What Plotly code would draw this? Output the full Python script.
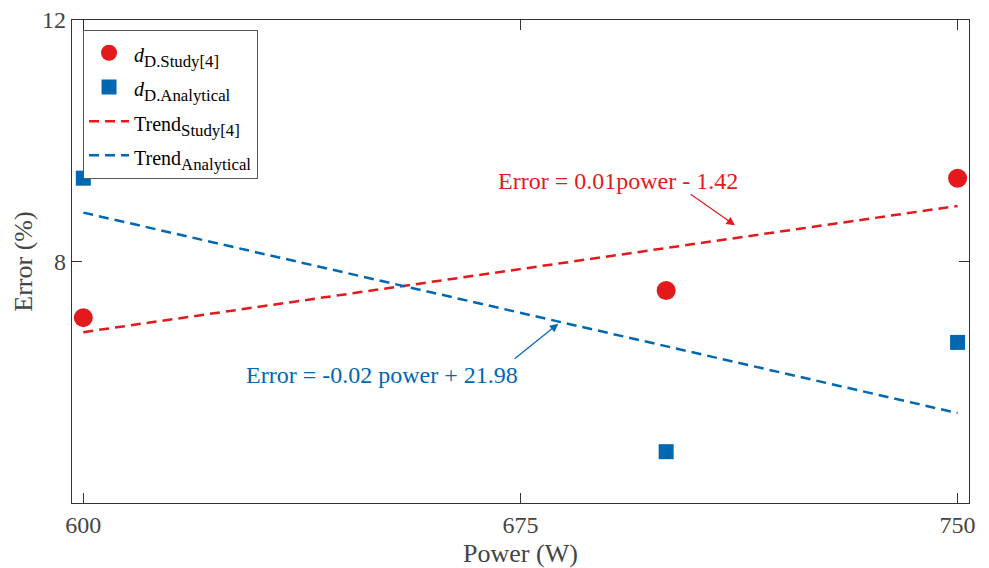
import plotly.graph_objects as go

power = [600, 700, 750]
err_study = [7.07, 7.52, 9.38]
err_analytical = [9.38, 4.85, 6.66]
trend_x = [600, 750]
trend_study = [6.83, 8.92]
trend_analytical = [8.81, 5.49]

RED = "#E3191C"
BLUE = "#0067B1"
FONT = "Liberation Serif"


def label(main, s, italic=False):
    m = "<i>" + main + "</i>" if italic else main
    return "<span style='font-size:20px'>" + m + "</span><sub>" + s + "</sub>"


fig = go.Figure()
fig.add_trace(go.Scatter(x=power, y=err_study, mode="markers",
                         marker=dict(symbol="circle", size=19, color=RED),
                         name=label("d", "D.Study[4]", True)))
fig.add_trace(go.Scatter(x=power, y=err_analytical, mode="markers",
                         marker=dict(symbol="square", size=15, color=BLUE),
                         name=label("d", "D.Analytical", True)))
fig.add_trace(go.Scatter(x=trend_x, y=trend_study, mode="lines",
                         line=dict(color=RED, width=2.5, dash="10px,6px"),
                         name=label("Trend", "Study[4]")))
fig.add_trace(go.Scatter(x=trend_x, y=trend_analytical, mode="lines",
                         line=dict(color=BLUE, width=2.5, dash="10px,6px"),
                         name=label("Trend", "Analytical")))

fig.update_layout(
    width=989, height=568,
    margin=dict(l=72, r=20, t=20, b=65, autoexpand=False),
    paper_bgcolor="white", plot_bgcolor="white",
    font=dict(family=FONT, size=24, color="#454545"),
    showlegend=True,
    legend=dict(x=0.0123, y=0.98, xanchor="left", yanchor="top",
                bordercolor="#555555", borderwidth=1, bgcolor="white",
                font=dict(family=FONT, size=24, color="black"),
                itemwidth=40, tracegroupgap=0),
    xaxis=dict(range=[598.06, 751.96], tickvals=[600, 675, 750], automargin=False,
               tickfont=dict(family=FONT, size=24, color="#454545"),
               ticklabelstandoff=0,
               showgrid=False, zeroline=False, showline=True, linecolor="#333333",
               linewidth=1.2, mirror="allticks", ticks="inside", ticklen=10,
               tickcolor="#333333",
               title=dict(text="Power (W)", font=dict(family=FONT, size=26, color="#454545"), standoff=8)),
    yaxis=dict(range=[4.0, 12], tickvals=[8, 12], automargin=False,
               tickfont=dict(family=FONT, size=24, color="#454545"),
               showgrid=False, zeroline=False, showline=True, linecolor="#333333",
               linewidth=1.2, mirror="allticks", ticks="inside", ticklen=10,
               tickcolor="#333333",
               title=dict(text="Error (%)", font=dict(family=FONT, size=26, color="#454545"), standoff=1)),
)

fig.add_annotation(x=691.7, y=9.34, xref="x", yref="y",
                   text="Error = 0.01power - 1.42", showarrow=False,
                   font=dict(family=FONT, size=24, color=RED))
fig.add_annotation(x=711.8, y=8.6, ax=703.95, ay=9.13,
                   xref="x", yref="y", axref="x", ayref="y",
                   text="", showarrow=True, arrowhead=2, arrowsize=1.4, arrowwidth=1.2,
                   arrowcolor=RED)
fig.add_annotation(x=651.3, y=6.125, xref="x", yref="y",
                   text="Error = -0.02 power + 21.98", showarrow=False,
                   font=dict(family=FONT, size=24, color=BLUE))
fig.add_annotation(x=681.5, y=6.97, ax=673.74, ay=6.37,
                   xref="x", yref="y", axref="x", ayref="y",
                   text="", showarrow=True, arrowhead=2, arrowsize=1.4, arrowwidth=1.2,
                   arrowcolor=BLUE)

fig.write_html("out.html")
